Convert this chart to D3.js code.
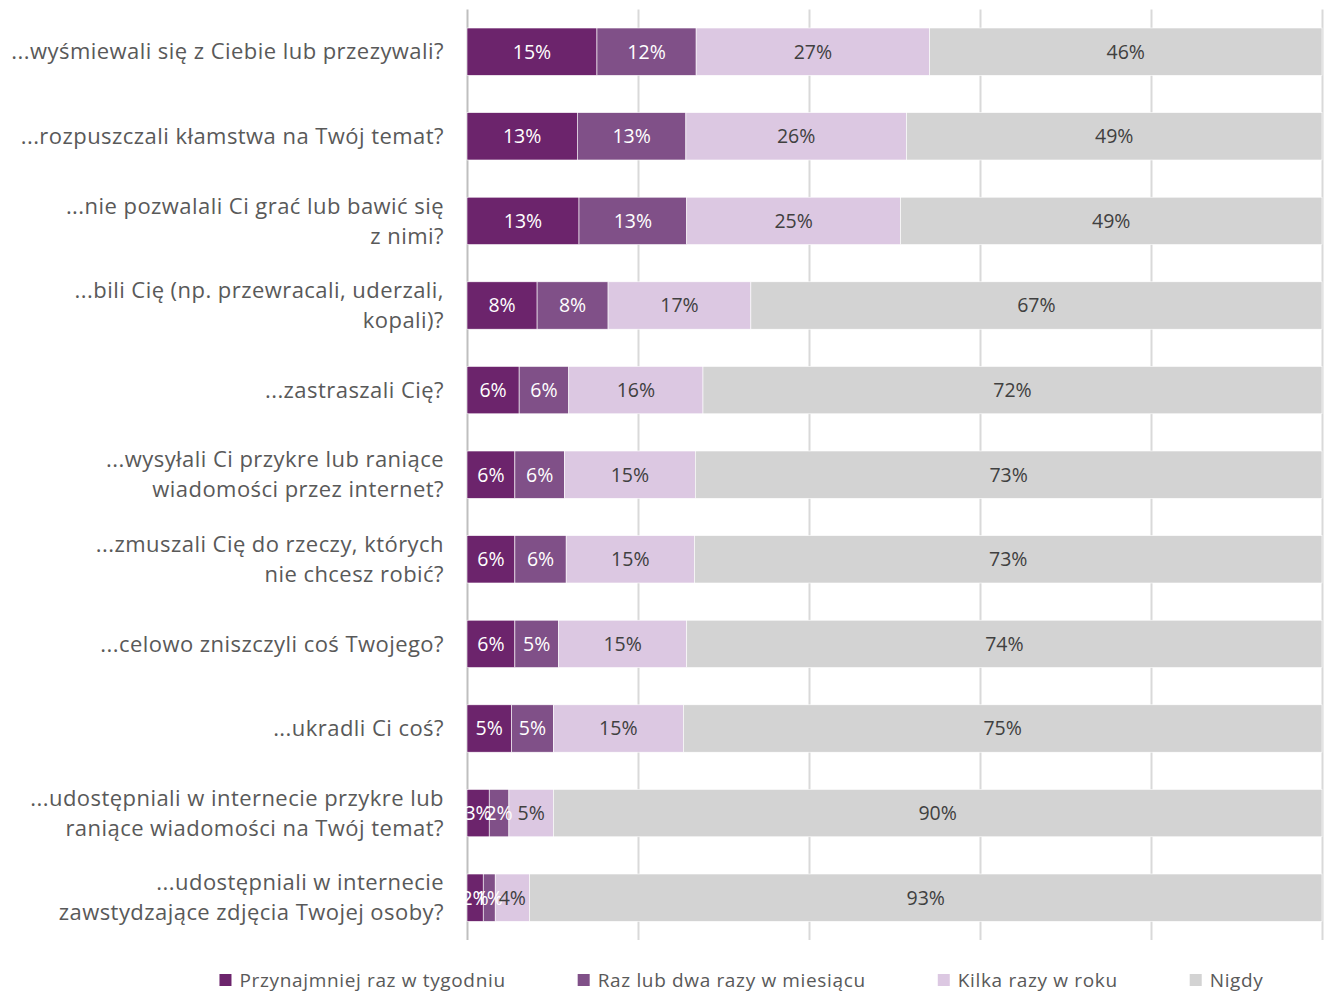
<!DOCTYPE html>
<meta charset="utf-8">
<title>Stacked bars</title>
<style>
  body { margin: 0; background: #fff; }
  svg { font-family: "Open Sans", Lato, sans-serif; }
  .grid line { stroke: #d9d9d9; stroke-width: 2px; }
  .cat { fill: #595959; font-size: 22px; letter-spacing: 0.45px; }
  .val { font-size: 19.5px; }
  .legend text { fill: #595959; font-size: 19px; letter-spacing: 0.65px; }
</style>
<body>
<script src="https://d3js.org/d3.v7.min.js"></script>
<script>
// categories (line breaks as in the original wrapping)
var categories = [
  "...wyśmiewali się z Ciebie lub przezywali?",
  "...rozpuszczali kłamstwa na Twój temat?",
  "...nie pozwalali Ci grać lub bawić się\nz nimi?",
  "...bili Cię (np. przewracali, uderzali,\nkopali)?",
  "...zastraszali Cię?",
  "...wysyłali Ci przykre lub raniące\nwiadomości przez internet?",
  "...zmuszali Cię do rzeczy, których\nnie chcesz robić?",
  "...celowo zniszczyli coś Twojego?",
  "...ukradli Ci coś?",
  "...udostępniali w internecie przykre lub\nraniące wiadomości na Twój temat?",
  "...udostępniali w internecie\nzawstydzające zdjęcia Twojej osoby?"
];

var seriesNames = ["Przynajmniej raz w tygodniu", "Raz lub dwa razy w miesiącu", "Kilka razy w roku", "Nigdy"];

// values in percent
var weekly  = [15.2, 12.9, 13.1, 8.2, 6.1, 5.6, 5.6, 5.6, 5.2, 2.6, 1.9];
var monthly = [11.6, 12.7, 12.6, 8.3, 5.8, 5.8, 6.0, 5.1, 4.9, 2.3, 1.4];
var yearly  = [27.3, 25.8, 25.0, 16.7, 15.7, 15.3, 15.0, 15.0, 15.2, 5.2, 4.0];
var never   = [45.9, 48.6, 49.3, 66.8, 72.4, 73.3, 73.4, 74.3, 74.7, 89.9, 92.7];

var xTicks = [0, 20, 40, 60, 80, 100];

var colors = ["#6c246c", "#805088", "#dcc8e2", "#d3d3d3"];
var labelColors = ["#ffffff", "#ffffff", "#404040", "#404040"];

var W = 1324, H = 992;

// build table for the stack
var table = categories.map(function(c, i) {
  var row = {cat: c};
  row[seriesNames[0]] = weekly[i];
  row[seriesNames[1]] = monthly[i];
  row[seriesNames[2]] = yearly[i];
  row[seriesNames[3]] = never[i];
  return row;
});

var x = d3.scaleLinear().domain([0, 100]).range([467, 1322]);
var y = d3.scaleBand().domain(categories).range([9.4, 940])
  .paddingInner(0.44).paddingOuter(0.22);

var svg = d3.select("body").append("svg")
  .attr("width", W).attr("height", H);

// gridlines
svg.append("g")
  .attr("class", "grid")
  .attr("transform", "translate(0,940)")
  .call(d3.axisBottom(x).tickValues(xTicks).tickSize(-930.6).tickFormat(""))
  .call(function(g) { g.select(".domain").remove(); })
  .selectAll(".tick line")
  .filter(function(d) { return d === 0; })
  .style("stroke", "#bfbfbf");

var stacked = d3.stack().keys(seriesNames)(table);

var layers = svg.append("g").selectAll("g")
  .data(stacked)
  .join("g")
  .attr("fill", function(d, i) { return colors[i]; });

layers.selectAll("rect")
  .data(function(d) { return d; })
  .join("rect")
  .attr("x", function(d) { return x(d[0]); })
  .attr("y", function(d) { return y(d.data.cat); })
  .attr("width", function(d) { return x(d[1]) - x(d[0]); })
  .attr("height", y.bandwidth())
  .attr("stroke", "#fff")
  .attr("stroke-width", 0.6);

// value labels
stacked.forEach(function(layer, i) {
  svg.append("g").selectAll("text")
    .data(layer)
    .join("text")
    .attr("class", "val")
    .attr("x", function(d) { return (x(d[0]) + x(d[1])) / 2; })
    .attr("y", function(d) { return y(d.data.cat) + y.bandwidth() / 2; })
    .attr("dy", "0.35em")
    .attr("text-anchor", "middle")
    .attr("fill", labelColors[i])
    .text(function(d) { return Math.round(d[1] - d[0]) + "%"; });
});

// category labels
var lineH = 30;
svg.append("g").selectAll("text")
  .data(categories)
  .join("text")
  .attr("class", "cat")
  .attr("text-anchor", "end")
  .each(function(c) {
    var lines = c.split("\n");
    var cy = y(c) + y.bandwidth() / 2 - (lines.length - 1) * lineH / 2;
    var t = d3.select(this);
    lines.forEach(function(l, k) {
      t.append("tspan")
        .attr("x", 444)
        .attr("y", cy + k * lineH)
        .attr("dy", "0.35em")
        .text(l);
    });
  });

// legend
var legend = svg.append("g").attr("class", "legend");
var items = legend.selectAll("g")
  .data(seriesNames)
  .join("g");
items.append("rect")
  .attr("width", 12).attr("height", 12)
  .attr("y", -6)
  .attr("fill", function(d, i) { return colors[i]; });
items.append("text")
  .attr("x", 20)
  .attr("dy", "0.35em")
  .text(function(d) { return d; });

var pos = 0, offsets = [];
items.each(function() {
  offsets.push(pos);
  pos += this.getBBox().width + 72;
});
var total = pos - 72;
var start = 741.5 - total / 2;
items.attr("transform", function(d, i) {
  return "translate(" + (start + offsets[i]) + ",980)";
});
</script>
</body>
